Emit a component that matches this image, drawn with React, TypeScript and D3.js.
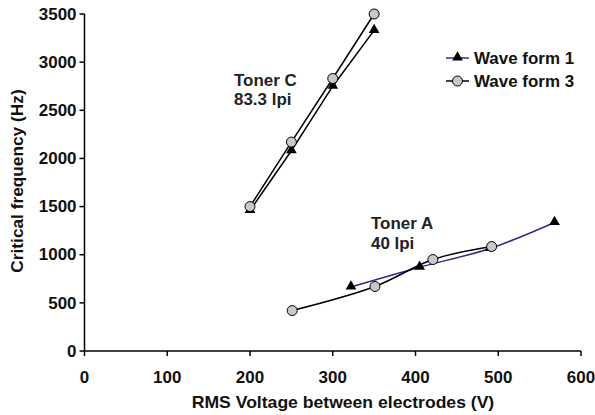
import React from "react";
import * as d3 from "d3";

const tonerCWave1X = [200, 250, 300, 350];
const tonerCWave1Y = [1460, 2080, 2750, 3330];
const tonerCWave3X = [200, 250, 300, 350];
const tonerCWave3Y = [1500, 2170, 2830, 3500];
const tonerAWave1X = [322, 405, 490, 568];
const tonerAWave1Y = [665, 870, 1065, 1335];
const tonerAWave3X = [251, 351, 421, 492];
const tonerAWave3Y = [420, 670, 950, 1085];
const xTicks = [0, 100, 200, 300, 400, 500, 600];
const yTicks = [0, 500, 1000, 1500, 2000, 2500, 3000, 3500];
const legendLabels = ["Wave form 1", "Wave form 3"];

const W = 595, H = 415;
const FONT = "'Liberation Sans', Arial, sans-serif";

function T(props: { x: number; y: number; sx?: number; rotate?: number; anchor?: string; dy?: string; fill?: string; children: any }) {
  const { x, y, sx = 1.06, rotate = 0, anchor = "start", dy, fill = "#111", children } = props;
  return (
    <text
      transform={`translate(${x},${y}) rotate(${rotate}) scale(${sx},1)`}
      textAnchor={anchor}
      dy={dy}
      fontSize={16}
      fontWeight="bold"
      fill={fill}
    >
      {children}
    </text>
  );
}

export default function App() {
  const x = d3.scaleLinear().domain([0, 600]).range([84.5, 581]);
  const y = d3.scaleLinear().domain([0, 3500]).range([351, 14]);
  const zip = (xs: number[], ys: number[]) => xs.map((v, i) => [v, ys[i]] as [number, number]);
  const straight = d3.line<[number, number]>().x(d => x(d[0])).y(d => y(d[1]));
  const smooth = d3.line<[number, number]>().x(d => x(d[0])).y(d => y(d[1])).curve(d3.curveCatmullRom.alpha(0.5));
  const tri = d3.symbol().type(d3.symbolTriangle).size(50)();
  const blue = "#2b2b8f";

  const triangles = (pts: [number, number][], key: string) =>
    pts.map((p, i) => (
      <path key={key + i} d={tri!} transform={`translate(${x(p[0])},${y(p[1]) - 0.5})`} fill="#000" />
    ));
  const circles = (pts: [number, number][], key: string) =>
    pts.map((p, i) => (
      <circle key={key + i} cx={x(p[0])} cy={y(p[1])} r={5} fill="#c8c8c8" stroke="#000" strokeWidth={1} />
    ));

  const c1 = zip(tonerCWave1X, tonerCWave1Y);
  const c3 = zip(tonerCWave3X, tonerCWave3Y);
  const a1 = zip(tonerAWave1X, tonerAWave1Y);
  const a3 = zip(tonerAWave3X, tonerAWave3Y);

  return (
    <svg width={W} height={H} style={{ position: "absolute", left: 0, top: 0, background: "#fff" }} fontFamily={FONT}>
      {/* axes */}
      <line x1={x(0)} x2={x(0)} y1={y(3500)} y2={y(0)} stroke="#000" strokeWidth={1.5} />
      <line x1={x(0)} x2={x(600)} y1={y(0)} y2={y(0)} stroke="#000" strokeWidth={1.5} />
      {yTicks.map(t => (
        <g key={"yt" + t}>
          <line x1={x(0) - 5} x2={x(0)} y1={y(t)} y2={y(t)} stroke="#000" strokeWidth={1.5} />
          <T x={x(0) - 8} y={y(t)} dy="0.36em" anchor="end">{t}</T>
        </g>
      ))}
      {xTicks.map(t => (
        <g key={"xt" + t}>
          <line x1={x(t)} x2={x(t)} y1={y(0)} y2={y(0) + 5} stroke="#000" strokeWidth={1.5} />
          <T x={x(t)} y={383} anchor="middle">{t}</T>
        </g>
      ))}
      <T x={343} y={408} anchor="middle" sx={1.1}>RMS Voltage between electrodes (V)</T>
      <T x={23} y={181} anchor="middle" rotate={-90} sx={1.08}>Critical frequency (Hz)</T>

      {/* lines */}
      <path d={straight(c1)!} fill="none" stroke="#000" strokeWidth={1.5} />
      <path d={straight(c3)!} fill="none" stroke="#000" strokeWidth={1.5} />
      <path d={smooth(a1)!} fill="none" stroke={blue} strokeWidth={1.5} />
      <path d={smooth(a3)!} fill="none" stroke="#000" strokeWidth={1.5} />

      {triangles(c1, "c1")}
      {circles(c3, "c3")}
      {triangles(a1, "a1")}
      {circles(a3, "a3")}

      {/* annotations */}
      <T x={234} y={86} fill="#222">Toner C</T>
      <T x={234} y={105} fill="#222">83.3 lpi</T>
      <T x={371} y={229} fill="#222">Toner A</T>
      <T x={371} y={249} fill="#222">40 lpi</T>

      {/* legend */}
      {legendLabels.map((l, i) => {
        const ly = 58 + i * 23;
        return (
          <g key={l}>
            <line x1={446} x2={469} y1={ly} y2={ly} stroke={i === 0 ? blue : "#000"} strokeWidth={1.5} />
            {i === 0 ? (
              <path d={tri!} transform={`translate(457.5,${ly - 0.5})`} fill="#000" />
            ) : (
              <circle cx={457.5} cy={ly} r={5} fill="#c8c8c8" stroke="#000" />
            )}
            <T x={474} y={ly} dy="0.36em">{l}</T>
          </g>
        );
      })}
    </svg>
  );
}
